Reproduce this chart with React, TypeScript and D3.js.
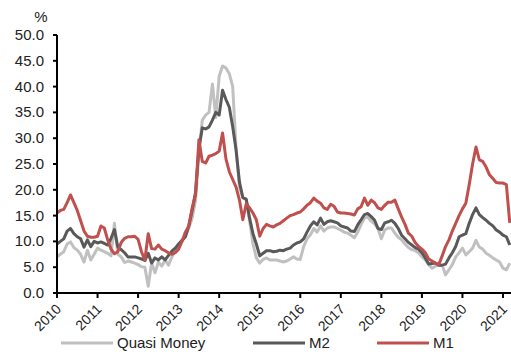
import React from "react";
import * as d3 from "d3";

const START_YEAR = 2010;
const yearTicks = [2010, 2011, 2012, 2013, 2014, 2015, 2016, 2017, 2018, 2019, 2020, 2021];
const valueTicks = [0, 5, 10, 15, 20, 25, 30, 35, 40, 45, 50];

// Monthly YoY growth, Jan 2010 - Mar 2021
const quasiMoney = [
  7, 7.5, 8, 9.5, 9.9, 8.8, 8.3, 7.5, 6, 8.3, 6.4, 7.5,
  8.7, 8.3, 8, 7.7, 7.2, 13.5, 7.5, 7, 5.9, 6.2, 6, 5.8,
  5.5, 5.1, 5, 1.3, 5.8, 3.9, 6, 5.2, 6.4, 5.4, 7, 8.3,
  9.2, 10, 11, 12.6, 14.5, 18, 27, 33.5, 34.5, 35, 40.5, 34,
  42, 44, 43.6, 42.5, 40, 28, 20.5, 18.5, 18, 14, 9.5, 6.8,
  5.8, 6.5, 6.8, 6.4, 6.4, 6.4, 6.2, 6, 6.2, 6.6, 7, 6.6,
  6.5, 9, 10.5, 11.3, 12.5, 11.8, 13, 12, 12.6, 12.8, 12.8, 12.5,
  12.2, 11.8, 11.6, 11.2, 10.7, 11.8, 13.3, 14.5, 14.7, 13.9, 13.4, 12.5,
  10.5, 12.2, 12.6, 12.6, 11.6, 10.8, 10.3, 9.5, 8.8, 8.4, 8.2, 7.8,
  7, 6.4, 5.5, 4.8, 5.2, 5.4, 5.4, 3.5, 4.5, 5.5, 7, 7.8,
  8.7, 7.4, 8, 8.7, 10.2, 8.9, 8.5, 7.7, 7.3, 6.8, 6.4, 6,
  4.8, 4.5, 5.8,
];
const m2 = [
  9.5, 10, 10.5, 12, 12.5, 11.5, 10.9, 10.5, 8.9, 10.3, 9, 10,
  9.7, 9.9, 9.6, 9.3, 10.6, 12.3, 8.9, 8.4, 7.8, 7, 7, 7,
  6.8, 6.6, 6.3, 7.7, 5.8, 6.8, 6.4, 7, 6.4, 7.3, 8.1, 8.7,
  9.5, 10.2, 10.9, 13, 16, 19.5, 28, 32, 31.8, 32.2, 33.5, 35,
  34.5, 39.3, 37.5, 36, 32.2, 27.7, 21.5, 18.5, 18.2, 14.5, 11.5, 9.5,
  7.2, 7.7, 8.2, 8.2, 8, 8.1, 8.3, 8.2, 8.5, 8.7, 9.3, 9.7,
  9.9, 10.5, 11.8, 13, 13.8, 13.2, 14.5, 13.3, 13.8, 14, 13.8, 13.6,
  13, 12.8, 12.6, 12, 11.9, 13.2, 14.2, 15.2, 15.4, 14.8, 14.1, 12.5,
  12.3, 13.6, 13.8, 14.1, 13.5, 12.5, 11.2, 10.5, 9.8, 9.3, 8.8, 8.5,
  7.8, 6.8, 5.6, 5.7, 5.8, 5.4, 5.4, 5.6, 6.8, 7.8, 9, 10.9,
  11.2, 11.5, 13.5, 15.2, 16.5, 15.2, 14.6, 14.1, 13.5, 13, 12.2, 11.8,
  11.2, 10.9, 9.3,
];
const m1 = [
  15.5, 16, 16.2, 17.5, 19, 17.5, 16, 14, 12, 11, 10.8, 10.8,
  11, 13, 12.6, 10.3, 8.5, 7.6, 8, 9.8, 10.6, 10.9, 10.9, 11,
  10.4, 8, 6.4, 11.5, 8.6, 8.5, 9.3, 8.5, 8.2, 7.8, 7.5, 7.8,
  8.5, 10, 11.8, 13, 16.5, 19, 29.7, 25.5, 25.2, 26.5, 26.7, 27,
  27.5, 31, 26, 23.5, 22, 20.5, 18, 14.2, 17.3, 16.5, 15.5, 14.2,
  11, 12.5, 13.3, 13, 12.8, 13.2, 13.5, 14, 14.5, 15, 15.2, 15.5,
  15.7, 16.3, 17, 17.5, 18.4, 17.8, 17.4, 16.5, 16.2, 17.2, 16.8, 15.7,
  15.5, 15.5, 15.4, 15.3, 15.1, 16.3, 16.7, 18.4, 17, 18, 17.5, 16.5,
  16.2, 17, 17.6, 17.6, 18, 16.3, 14.7, 13.3, 11.6, 11, 9.8, 9,
  8.5, 7.8, 6.6, 6.2, 5.8, 5.5, 7.2, 9, 10.3, 12, 13.5, 15,
  16.3, 17.4, 21, 25, 28.3, 25.8, 25.5, 24.4, 22.9, 22.2, 21.4, 21.3,
  21.3, 21, 13.6,
];

const seriesNames = ["Quasi Money", "M2", "M1"];
const seriesColors = ["#c0c0c0", "#595959", "#c0504d"];

export default function App() {
  const width = 511;
  const height = 354;
  const x = d3.scaleLinear().domain([2010, 2021]).range([57, 503]);
  const y = d3.scaleLinear().domain([0, 50]).range([293, 35]);
  const allSeries = [quasiMoney, m2, m1];
  const line = d3
    .line<number>()
    .x((_, i) => x(START_YEAR + i / 12))
    .y((d) => y(d))
    .curve(d3.curveLinear);
  const fmt = d3.format(".1f");
  const font = "Liberation Sans, Arial, sans-serif";

  const legendX = [61, 253, 377];

  return (
    <svg
      width={width}
      height={height}
      style={{ position: "absolute", left: 0, top: 0, background: "#fff" }}
      fontFamily={font}
    >
      <rect x={0} y={0} width={width} height={height} fill="#fff" />
      {allSeries.map((s, k) => (
        <path
          key={k}
          d={line(s) || ""}
          fill="none"
          stroke={seriesColors[k]}
          strokeWidth={3}
          strokeLinejoin="round"
        />
      ))}
      {/* Y axis */}
      <line x1={57} x2={57} y1={y(50)} y2={y(0)} stroke="#000" strokeWidth={2} />
      {valueTicks.map((v) => (
        <g key={v}>
          <line x1={53} x2={57} y1={y(v)} y2={y(v)} stroke="#000" strokeWidth={2} />
          <text x={44} y={y(v) + 5} textAnchor="end" fontSize={15} fill="#222">
            {fmt(v)}
          </text>
        </g>
      ))}
      <text x={41} y={22} textAnchor="middle" fontSize={15} fill="#222">
        %
      </text>
      {/* X axis */}
      <line x1={56} x2={width} y1={y(0)} y2={y(0)} stroke="#000" strokeWidth={2} />
      {yearTicks.map((t) => (
        <g key={t}>
          <line x1={x(t)} x2={x(t)} y1={y(0)} y2={y(0) + 5} stroke="#000" strokeWidth={2} />
          <text
            transform={`translate(${x(t) + 5},${y(0) + 17}) rotate(-45)`}
            textAnchor="end"
            fontSize={14}
            fill="#222"
          >
            {t}
          </text>
        </g>
      ))}
      {/* Legend */}
      {seriesNames.map((n, k) => (
        <g key={n}>
          <line
            x1={legendX[k]}
            x2={legendX[k] + 52}
            y1={343}
            y2={343}
            stroke={seriesColors[k]}
            strokeWidth={3}
          />
          <text x={legendX[k] + 56} y={348} fontSize={15} fill="#222">
            {n}
          </text>
        </g>
      ))}
    </svg>
  );
}
